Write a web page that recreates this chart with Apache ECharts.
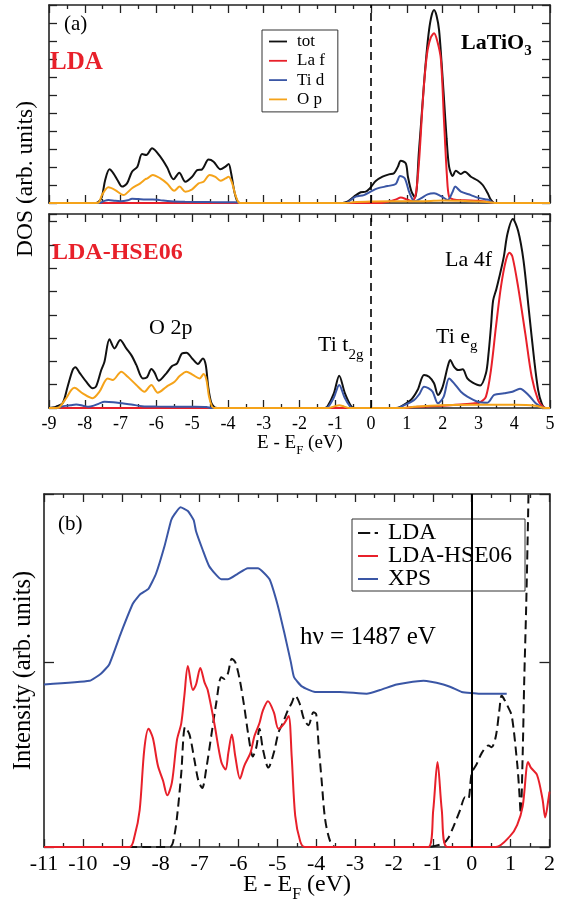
<!DOCTYPE html>
<html><head><meta charset="utf-8">
<script src="https://cdn.jsdelivr.net/npm/echarts@6/dist/echarts.min.js"></script>
<style>html,body{margin:0;padding:0;background:#fff}#c{width:563px;height:902px}</style>
</head><body><div id="c"></div>
<script>
// ---------- DATA (E in eV, DOS / intensity in arb. units) ----------
// Panel (a) top: LDA
const ldaTot = [[-9,0],[-7.7,0],[-7.6,0.1],[-7.52,0.35],[-7.43,1.28],[-7.31,1.87],[-7.2,1.65],[-7.08,1.25],[-6.96,0.91],[-6.82,1.09],[-6.68,1.74],[-6.53,2.02],[-6.40,2.72],[-6.28,2.67],[-6.12,3.04],[-5.89,2.57],[-5.70,1.98],[-5.52,1.32],[-5.36,1.68],[-5.19,1.18],[-5.0,1.46],[-4.86,1.83],[-4.72,1.87],[-4.54,2.41],[-4.40,2.29],[-4.21,1.87],[-4.07,2.02],[-3.98,2.17],[-3.91,1.65],[-3.82,0.63],[-3.73,0.07],[-3.65,0],[-0.8,0],[-0.66,0.07],[-0.48,0.35],[-0.29,0.6],[-0.15,0.63],[-0.06,0.76],[0.02,0.95],[0.13,1.22],[0.32,1.46],[0.50,1.59],[0.64,1.65],[0.75,2.02],[0.83,2.35],[0.97,2.2],[1.03,1.46],[1.13,0.63],[1.23,0.3],[1.34,2.94],[1.40,4.5],[1.48,6.65],[1.55,8.3],[1.62,9.6],[1.69,10.4],[1.76,10.72],[1.83,10.4],[1.90,9.6],[1.97,7.8],[2.04,5.72],[2.11,3.6],[2.18,2.02],[2.28,1.5],[2.37,1.79],[2.51,1.61],[2.62,1.74],[2.79,1.46],[2.98,1.25],[3.12,1.0],[3.26,0.54],[3.35,0.17],[3.45,0],[5,0]];
const ldaLaF = [[-9,0],[0.3,0],[0.5,0.08],[0.7,0.2],[0.83,0.3],[1.0,0.2],[1.15,0.1],[1.25,0.5],[1.34,2.3],[1.44,5.5],[1.51,7.3],[1.58,8.5],[1.67,9.2],[1.76,9.43],[1.85,9.0],[1.95,8.0],[2.04,4.5],[2.12,1.5],[2.18,0.35],[2.3,0.2],[2.6,0.15],[3.0,0.12],[3.3,0.05],[3.45,0],[5,0]];
const ldaTiD = [[-9,0],[-7.6,0],[-7.45,0.12],[-7.34,0.17],[-7.15,0.12],[-7.0,0.1],[-6.8,0.15],[-6.68,0.24],[-6.5,0.22],[-6.3,0.2],[-6.1,0.2],[-5.9,0.16],[-5.6,0.1],[-5.2,0.07],[-4.5,0.05],[-3.8,0.04],[-3.65,0],[-0.8,0],[-0.66,0.04],[-0.43,0.35],[-0.2,0.44],[-0.01,0.63],[0.18,0.81],[0.46,0.94],[0.69,1.06],[0.81,1.5],[0.94,1.37],[1.06,0.63],[1.17,0.15],[1.23,0.1],[1.39,0.26],[1.58,0.48],[1.76,0.54],[1.95,0.39],[2.14,0.17],[2.28,0.63],[2.35,0.91],[2.51,0.63],[2.79,0.44],[2.98,0.3],[3.2,0.2],[3.3,0.17],[3.42,0],[5,0]];
const ldaOp = [[-9,0],[-7.68,0],[-7.6,0.05],[-7.52,0.44],[-7.34,0.87],[-7.15,0.72],[-6.92,0.44],[-6.68,0.82],[-6.45,1.09],[-6.31,1.32],[-6.25,1.37],[-6.10,1.56],[-5.89,1.37],[-5.70,1.09],[-5.50,0.68],[-5.35,0.91],[-5.19,0.63],[-5.0,0.76],[-4.82,1.09],[-4.68,1.18],[-4.51,1.56],[-4.35,1.45],[-4.21,1.24],[-4.08,1.35],[-3.98,1.46],[-3.88,1.09],[-3.79,0.44],[-3.7,0.03],[-3.62,0],[-0.7,0],[-0.5,0.04],[0,0.08],[0.5,0.1],[1.0,0.1],[1.5,0.1],[2.0,0.14],[2.5,0.12],[3.0,0.08],[3.3,0.04],[3.45,0],[5,0]];

// Panel (a) bottom: LDA-HSE06
const hseTot = [[-9,0],[-8.9,0.02],[-8.80,0.06],[-8.62,0.2],[-8.48,0.91],[-8.34,1.63],[-8.26,1.75],[-8.15,1.52],[-7.96,1.13],[-7.78,0.85],[-7.68,0.94],[-7.54,1.63],[-7.45,1.99],[-7.31,2.95],[-7.17,2.56],[-7.01,2.92],[-6.84,2.56],[-6.70,2.27],[-6.56,1.85],[-6.38,1.27],[-6.26,1.32],[-6.14,1.67],[-6.05,1.52],[-5.93,1.17],[-5.72,1.49],[-5.56,1.8],[-5.42,1.92],[-5.28,2.35],[-5.16,2.37],[-4.98,2.09],[-4.84,1.89],[-4.70,2.13],[-4.62,1.85],[-4.55,0.9],[-4.47,0.25],[-4.38,0.03],[-4.3,0],[-1.3,0],[-1.22,0.06],[-1.04,0.63],[-0.89,1.39],[-0.73,0.63],[-0.55,0.06],[-0.45,0],[0.7,0],[0.83,0.06],[1.11,0.34],[1.30,0.77],[1.48,1.42],[1.62,1.34],[1.76,1.06],[1.87,0.56],[2.0,0.91],[2.14,1.77],[2.21,2.06],[2.32,1.77],[2.43,1.63],[2.56,1.66],[2.69,1.27],[2.84,1.09],[3.05,0.97],[3.21,1.49],[3.28,2.3],[3.35,3.49],[3.41,4.61],[3.5,5.1],[3.58,5.6],[3.71,6.5],[3.81,7.47],[3.96,8.11],[4.11,7.6],[4.26,6.33],[4.41,4.19],[4.56,2.04],[4.67,0.76],[4.77,0.19],[4.87,0],[5,0]];
const hseLaF = [[-9,0],[0.9,0],[1.3,0.05],[2.0,0.1],[2.5,0.15],[2.9,0.2],[3.05,0.25],[3.21,0.49],[3.35,1.63],[3.49,3.49],[3.63,5.21],[3.77,6.35],[3.87,6.67],[3.95,6.5],[4.11,5.19],[4.31,3.19],[4.49,1.33],[4.67,0.33],[4.8,0.05],[4.9,0],[5,0]];
const hseTiD = [[-9,0],[-8.8,0],[-8.6,0.08],[-8.4,0.12],[-8.24,0.15],[-8.05,0.1],[-7.9,0.05],[-7.75,0.1],[-7.59,0.2],[-7.45,0.27],[-7.2,0.25],[-6.95,0.2],[-6.7,0.15],[-6.4,0.08],[-6.0,0.06],[-5.0,0.05],[-4.6,0.04],[-4.45,0],[-1.3,0],[-1.2,0.05],[-1.04,0.45],[-0.89,0.99],[-0.74,0.45],[-0.58,0.05],[-0.5,0],[0.75,0],[0.83,0.05],[1.2,0.34],[1.35,0.6],[1.48,0.91],[1.6,0.85],[1.72,0.7],[1.87,0.2],[2.03,0.49],[2.18,1.27],[2.32,1.06],[2.51,0.7],[2.69,0.49],[2.98,0.27],[3.25,0.23],[3.44,0.56],[3.72,0.63],[3.95,0.7],[4.16,0.83],[4.41,0.54],[4.6,0.2],[4.75,0.05],[4.85,0],[5,0]];
const hseOp = [[-9,0],[-8.8,0],[-8.71,0.03],[-8.52,0.42],[-8.38,0.77],[-8.29,0.87],[-8.06,0.63],[-7.78,0.42],[-7.59,0.7],[-7.36,1.27],[-7.22,1.2],[-6.98,1.56],[-6.80,1.34],[-6.56,0.99],[-6.33,0.7],[-6.14,0.99],[-5.96,0.66],[-5.72,0.91],[-5.49,1.13],[-5.35,1.37],[-5.16,1.56],[-4.98,1.42],[-4.79,1.27],[-4.68,1.46],[-4.6,1.2],[-4.53,0.5],[-4.45,0.08],[-4.38,0],[-1.2,0],[-1.0,0.08],[-0.89,0.12],[-0.75,0.06],[-0.6,0],[0.9,0],[1.2,0.05],[2.0,0.12],[3.0,0.14],[4.0,0.14],[4.6,0.1],[4.85,0],[5,0]];

// Panel (b): spectra
const specLDA = [[-11,0],[-7.77,0],[-7.65,0.06],[-7.56,0.20],[-7.47,0.40],[-7.37,0.65],[-7.26,0.61],[-7.13,0.47],[-7.03,0.36],[-6.93,0.32],[-6.83,0.42],[-6.70,0.60],[-6.57,0.78],[-6.44,0.92],[-6.36,0.91],[-6.27,0.94],[-6.17,1.02],[-6.08,1.00],[-5.97,0.91],[-5.85,0.76],[-5.74,0.60],[-5.63,0.49],[-5.54,0.54],[-5.46,0.64],[-5.37,0.53],[-5.23,0.43],[-5.09,0.51],[-4.97,0.62],[-4.86,0.67],[-4.73,0.74],[-4.63,0.78],[-4.54,0.82],[-4.43,0.78],[-4.31,0.69],[-4.20,0.66],[-4.07,0.73],[-4.0,0.72],[-3.94,0.56],[-3.86,0.36],[-3.77,0.15],[-3.64,0.03],[-3.51,0],[-1.16,0],[-0.73,0.02],[-0.60,0.05],[-0.47,0.11],[-0.30,0.20],[-0.17,0.27],[-0.09,0.26],[0.0,0.40],[0.13,0.45],[0.26,0.51],[0.43,0.55],[0.51,0.54],[0.62,0.60],[0.71,0.74],[0.77,0.82],[0.86,0.79],[0.93,0.76],[1.03,0.71],[1.17,0.45],[1.22,0.31],[1.26,0.18],[1.31,0.5],[1.35,0.9],[1.40,1.3],[1.45,1.8],[1.49,2.3]];
const specHSE = [[-11,0],[-8.80,0],[-8.67,0.06],[-8.54,0.20],[-8.42,0.53],[-8.31,0.64],[-8.20,0.59],[-8.07,0.44],[-7.94,0.36],[-7.83,0.28],[-7.71,0.35],[-7.58,0.58],[-7.47,0.67],[-7.39,0.82],[-7.30,0.98],[-7.17,0.85],[-7.09,0.88],[-6.98,0.97],[-6.87,0.89],[-6.79,0.85],[-6.62,0.67],[-6.44,0.46],[-6.33,0.42],[-6.26,0.51],[-6.17,0.61],[-6.08,0.49],[-5.96,0.37],[-5.85,0.44],[-5.69,0.51],[-5.59,0.60],[-5.46,0.67],[-5.37,0.74],[-5.24,0.79],[-5.09,0.73],[-4.97,0.64],[-4.82,0.67],[-4.71,0.71],[-4.63,0.49],[-4.54,0.17],[-4.41,0.03],[-4.29,0],[-1.12,0],[-0.99,0.2],[-0.88,0.46],[-0.77,0.2],[-0.63,0],[0.62,0],[0.99,0.06],[1.17,0.12],[1.31,0.22],[1.45,0.46],[1.52,0.43],[1.68,0.39],[1.82,0.26],[1.89,0.16],[1.98,0.27],[2.0,0.3]];
const specXPS = [[-11,0.88],[-9.83,0.90],[-9.53,0.94],[-9.32,0.99],[-9.02,1.16],[-8.71,1.32],[-8.52,1.37],[-8.31,1.40],[-8.12,1.48],[-7.90,1.63],[-7.73,1.77],[-7.65,1.80],[-7.49,1.84],[-7.30,1.82],[-7.15,1.77],[-7.09,1.71],[-6.92,1.61],[-6.75,1.52],[-6.44,1.45],[-6.27,1.45],[-6.02,1.48],[-5.76,1.51],[-5.50,1.51],[-5.20,1.45],[-4.99,1.31],[-4.82,1.16],[-4.65,1.0],[-4.57,0.92],[-4.37,0.87],[-4.03,0.84],[-3.39,0.84],[-2.70,0.83],[-2.36,0.85],[-1.93,0.88],[-1.67,0.89],[-1.24,0.90],[-0.73,0.88],[-0.47,0.86],[-0.26,0.84],[0.21,0.83],[0.90,0.83]];

const xRangeA = [-9, 5];   // energy range, panel (a)
const xRangeB = [-11, 2];  // energy range, panel (b)
const fermi = [0];

// ---------- STYLE ----------
const FF = '"Liberation Serif","Times New Roman",serif';
const C = {k:'#111111', r:'#e8202a', b:'#3a56a5', o:'#f5a31a'};
const chart = echarts.init(document.getElementById('c'));
const mctx = document.createElement('canvas').getContext('2d');
function tw(s, font){ mctx.font = font; return mctx.measureText(s).width; }

function xAx(grid, range, pos, labels, fs){
  return {type:'value', gridIndex:grid, position:pos, min:range[0], max:range[1], interval:1,
    axisLine:{show:true, onZero:false, lineStyle:{color:'#222', width:1.6}},
    axisTick:{show:true, inside:true, length:8, lineStyle:{color:'#222', width:1.3}},
    minorTick:{show:true, splitNumber:2, length:4, lineStyle:{color:'#222', width:1.3}},
    splitLine:{show:false},
    axisLabel:{show:labels, color:'#000', fontFamily:FF, fontSize:fs, margin:7}};
}
function yAx(grid, max, pos){
  return {type:'value', gridIndex:grid, position:pos, min:0, max:max, interval:1,
    axisLine:{show:true, onZero:false, lineStyle:{color:'#222', width:1.6}},
    axisTick:{show:true, inside:true, length:8, lineStyle:{color:'#222', width:1.3}},
    splitLine:{show:false}, axisLabel:{show:false}};
}
function ln(name, data, color, xi, yi, extra){
  return Object.assign({type:'line', name:name, data:data, xAxisIndex:xi, yAxisIndex:yi,
    showSymbol:false, symbol:'none', smooth:0.3, lineStyle:{color:color, width:2}, itemStyle:{color:color},
    z:3}, extra||{});
}
const vDash = {silent:true, symbol:'none', label:{show:false}, animation:false,
  lineStyle:{color:'#000', type:[8,5], width:1.6}, data:fermi.map(v=>({xAxis:v}))};
const vSolid = {silent:true, symbol:'none', label:{show:false}, animation:false,
  lineStyle:{color:'#000', type:'solid', width:2}, data:fermi.map(v=>({xAxis:v}))};

const xA = [xAx(0,xRangeA,'bottom',false,18), xAx(0,xRangeA,'top',false,18),
            xAx(1,xRangeA,'bottom',true,18), xAx(1,xRangeA,'top',false,18),
            xAx(2,xRangeB,'bottom',true,22), xAx(2,xRangeB,'top',false,22)];
xA[4].axisLabel.margin = 6;

const yA = [yAx(0,11,'left'), yAx(0,11,'right'), yAx(1,8.33,'left'), yAx(1,8.33,'right'),
            yAx(2,1.912,'left'), yAx(2,1.912,'right')];
yA[4].axisTick.length = 10; yA[5].axisTick.length = 10;
yA[4].name = 'Intensity (arb. units)'; yA[4].nameLocation='middle'; yA[4].nameRotate=90; yA[4].nameGap=8;
yA[4].nameTextStyle = {fontFamily:FF, fontSize:24.5, color:'#000'};

function txt(x, y, s, fs, opt){
  opt = opt||{};
  return {type:'text', x:x, y:y, rotation:opt.rot||0, z:10,
    style:{text:s, fill:opt.color||'#000', font:(opt.bold?'bold ':'')+fs+'px '+FF,
      align:opt.align||'left', verticalAlign:'middle'}};
}
function font(fs,bold){ return (bold?'bold ':'')+fs+'px '+FF; }
// main text followed by a subscript
function withSub(x, y, main, sub, fs, sfs, dy, opt){
  opt = opt||{};
  const w = tw(main, font(fs,opt.bold));
  return [txt(x,y,main,fs,opt), txt(x+w+(opt.gap||0), y+dy, sub, sfs, opt)];
}
// centred "E - E_F (eV)"
function eTitle(cx, y, fs, sfs, dy){
  const a='E - E', b='F', c=' (eV)';
  const wa=tw(a,font(fs)), wb=tw(b,font(sfs)), wc=tw(c,font(fs));
  const x0 = cx-(wa+wb+wc)/2;
  return [txt(x0,y,a,fs), txt(x0+wa,y+dy,b,sfs), txt(x0+wa+wb,y,c,fs)];
}

const LINE = 'path://M0,0H20V2H0Z';
const DASHDOT = 'path://M0,0H11V2H0Z M15,0H18V2H15Z';

const option = {
  animation:false,
  backgroundColor:'#fff',
  grid:[{left:49, top:5, width:501, height:198},
        {left:49, top:214, width:501, height:194},
        {left:44, top:494, width:505.5, height:353}],
  xAxis:xA, yAxis:yA,
  legend:[
    {data:[{name:'tot',icon:LINE},{name:'La f',icon:LINE},{name:'Ti d',icon:LINE},{name:'O p',icon:LINE}],
     orient:'vertical', left:262, top:30,
     backgroundColor:'#fff', borderColor:'#333', borderWidth:1, padding:[3,13,4,7],
     itemWidth:18, itemHeight:2.2, itemGap:2.3, selectedMode:false,
     textStyle:{fontFamily:FF, fontSize:17, color:'#000', padding:[0,0,0,5]}},
    {data:[{name:'LDA',icon:DASHDOT},{name:'LDA-HSE06',icon:LINE},{name:'XPS',icon:LINE}],
     orient:'vertical', left:352, top:519,
     backgroundColor:'#fff', borderColor:'#333', borderWidth:1, padding:[2,13,0,6],
     itemWidth:20, itemHeight:2.4, itemGap:-1, selectedMode:false,
     textStyle:{fontFamily:FF, fontSize:23.5, color:'#000', padding:[0,0,0,5]}}
  ],
  graphic:[].concat(
    [txt(64,24,'(a)',21),
     txt(50,63,'LDA',25,{bold:true,color:C.r})],
    withSub(461,43,'LaTiO','3',22,15,8,{bold:true}),
    [txt(52,253,'LDA-HSE06',24,{bold:true,color:C.r}),
     txt(445,260,'La 4f',22),
     txt(149,328,'O 2p',22)],
    withSub(318,345,'Ti t','2g',22,15,10),
    withSub(436,337,'Ti e','g',22,15,9),
    eTitle(300,443,19,13,8),
    [txt(26,179,'DOS (arb. units)',23.5,{rot:Math.PI/2,align:'center'}),
     txt(58,524,'(b)',21),
     txt(300,637,'h\u03bd = 1487 eV',25)],
    eTitle(297,885,24,16,10)
  ),
  series:[
    ln('tot', ldaTot, C.k, 0, 0, {markLine:vDash}),
    ln('La f', ldaLaF, C.r, 0, 0),
    ln('Ti d', ldaTiD, C.b, 0, 0),
    ln('O p', ldaOp, C.o, 0, 0),
    ln('tot', hseTot, C.k, 2, 2, {markLine:vDash}),
    ln('La f', hseLaF, C.r, 2, 2),
    ln('Ti d', hseTiD, C.b, 2, 2),
    ln('O p', hseOp, C.o, 2, 2),
    ln('LDA', specLDA, C.k, 4, 4, {lineStyle:{color:C.k, width:2, type:[9,5]}, markLine:vSolid}),
    ln('LDA-HSE06', specHSE, C.r, 4, 4),
    ln('XPS', specXPS, C.b, 4, 4, {smooth:0.15})
  ]
};
chart.setOption(option);
</script></body></html>
